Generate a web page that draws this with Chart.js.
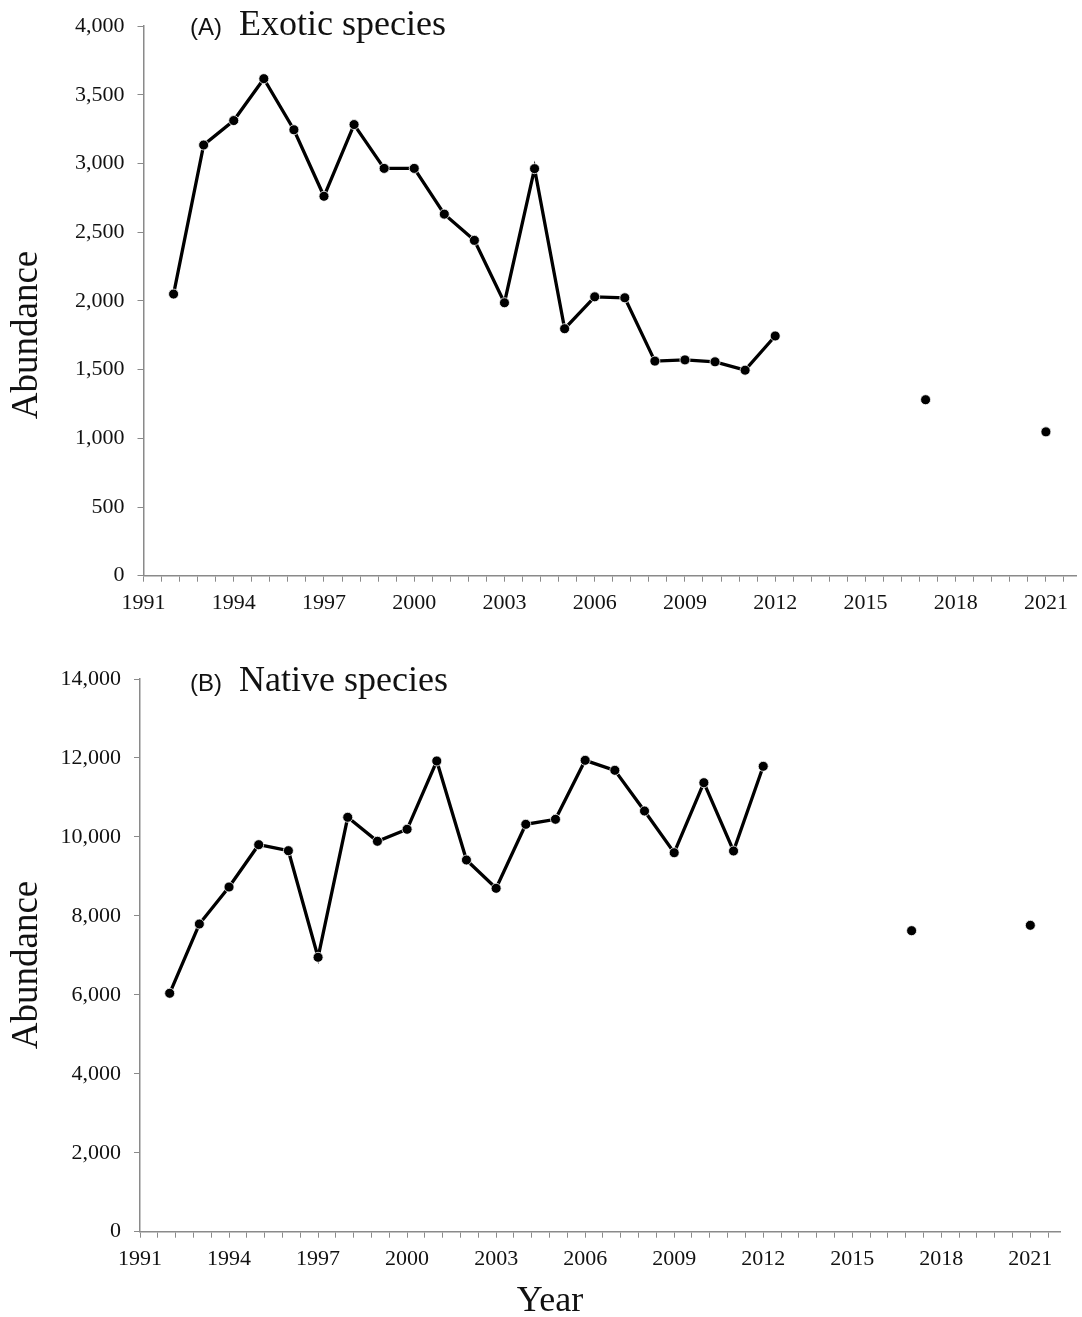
<!DOCTYPE html>
<html lang="en">

<head>
  <meta charset="UTF-8" />
  <title>Abundance</title>
  <style>
    body {
      margin: 0;
      background: #fff;
      width: 1082px;
      height: 1317px;
      position: relative;
      overflow: hidden;
      font-family: "Liberation Serif", "Times New Roman", serif;
      color: #111;
    }

    .box {
      position: absolute;
      left: 0;
      width: 1082px;
    }

    .panel {
      position: absolute;
      left: 190px;
      line-height: 36px;
      white-space: nowrap;
    }

    .panel .tag {
      font-family: "Liberation Sans", Arial, sans-serif;
      font-size: 24px;
      margin-right: 17px;
    }

    .panel .name {
      font-size: 36px;
    }

    .ytitle {
      position: absolute;
      width: 300px;
      height: 40px;
      line-height: 40px;
      text-align: center;
      font-size: 37px;
      transform: rotate(-90deg);
    }

    .xtitle {
      position: absolute;
      width: 200px;
      text-align: center;
      font-size: 36px;
      line-height: 40px;
    }
  </style>
</head>

<body>
  <div class="box" style="top:0;height:625px"><canvas id="chartA"></canvas></div>
  <div class="box" style="top:630px;height:687px"><canvas id="chartB"></canvas></div>

  <div class="panel" style="top:5px"><span class="tag">(A)</span><span class="name">Exotic species</span></div>
  <div class="panel" style="top:661px"><span class="tag">(B)</span><span class="name">Native species</span></div>
  <div class="ytitle" style="left:-125px;top:315px">Abundance</div>
  <div class="ytitle" style="left:-125px;top:945px">Abundance</div>
  <div class="xtitle" style="left:450px;top:1279px">Year</div>

  <script src="https://cdn.jsdelivr.net/npm/chart.js@4"></script>
  <script>
    // survey years and counts
    const years = [1992, 1993, 1994, 1995, 1996, 1997, 1998, 1999, 2000, 2001, 2002,
      2003, 2004, 2005, 2006, 2007, 2008, 2009, 2010, 2011, 2012, 2017, 2021];
    const exotic = [2050, 3135, 3313, 3618, 3246, 2762, 3284, 2965, 2965, 2632, 2441,
      1987, 2963, 1798, 2030, 2023, 1562, 1571, 1557, 1496, 1745, 1281, 1047];
    const native = [6039, 7794, 8731, 9803, 9651, 6951, 10497, 9889, 10193, 11923, 9415,
      8698, 10319, 10446, 11940, 11687, 10656, 9600, 11373, 9643, 11788, 7625, 7761];
    const yearLabels = [1991, 1994, 1997, 2000, 2003, 2006, 2009, 2012, 2015, 2018, 2021];

    const xMin = 1991, xMax = 2022, minorStep = 0.6;
    const tickFont = { family: "'Liberation Serif', 'Times New Roman', serif", size: 22 };
    const axisGrey = "#8a8a8a";

    function makeChart(id, values, yMax, yStep, sizes) {
      const pts = years.map((y, i) => ({ x: y, y: values[i] }));
      return new Chart(document.getElementById(id), {
        type: "line",
        data: {
          datasets: [{
            data: pts,
            borderColor: "#000",
            borderWidth: 3.3,
            backgroundColor: "#000",
            pointRadius: 5,
            pointBackgroundColor: "#000",
            pointBorderColor: "#fff",
            pointBorderWidth: 0.8,
            tension: 0,
            segment: {
              // years with no survey are left as a gap
              borderColor: ctx => ctx.p1.parsed.x - ctx.p0.parsed.x > 1 ? "rgba(0,0,0,0)" : "#000"
            }
          }]
        },
        options: {
          responsive: true,
          maintainAspectRatio: false,
          animation: false,
          layout: { padding: { top: sizes.top, right: sizes.right, left: 0, bottom: 0 } },
          plugins: { legend: { display: false }, tooltip: { enabled: false } },
          scales: {
            x: {
              type: "linear",
              min: xMin,
              max: xMax,
              afterBuildTicks: scale => {
                const t = [];
                for (let v = xMin; v <= xMax + 1e-6; v += minorStep) t.push({ value: Math.round(v * 10) / 10 });
                scale.ticks = t;
              },
              afterFit: scale => { scale.height = sizes.xh; },
              border: { color: axisGrey, width: 1.5 },
              grid: { drawOnChartArea: false, color: axisGrey, tickLength: 6, tickWidth: 1 },
              ticks: {
                autoSkip: false,
                maxRotation: 0,
                padding: 8,
                color: "#111",
                font: tickFont,
                callback: v => {
                  const hit = yearLabels.find(l => Math.abs(l - v) < 0.01);
                  return hit === undefined ? "" : String(hit);
                }
              }
            },
            y: {
              min: 0,
              max: yMax,
              afterFit: scale => { scale.width = sizes.yw; },
              border: { color: axisGrey, width: 1.5 },
              grid: { drawOnChartArea: false, color: axisGrey, tickLength: 6 },
              ticks: {
                stepSize: yStep,
                padding: 13,
                color: "#111",
                font: tickFont,
                callback: v => v.toLocaleString("en-US")
              }
            }
          }
        }
      });
    }

    makeChart("chartA", exotic, 4000, 500, { top: 24, right: 6, yw: 143.5, xh: 49.3 });
    makeChart("chartB", native, 14000, 2000, { top: 49, right: 22, yw: 140, xh: 85.3 });
  </script>
</body>

</html>
